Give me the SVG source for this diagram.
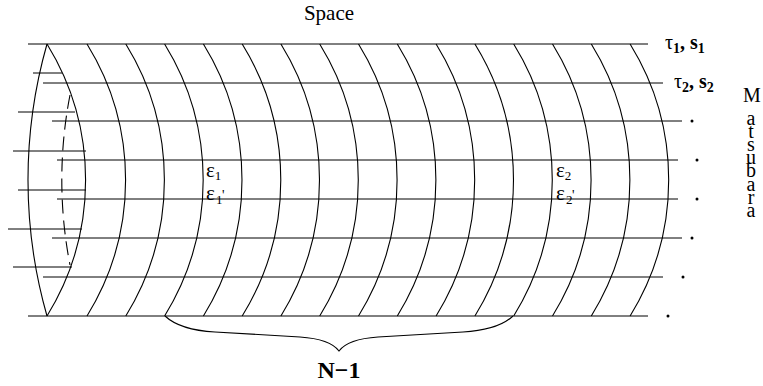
<svg xmlns="http://www.w3.org/2000/svg" width="763" height="386" viewBox="0 0 763 386">
<style>
.ln{stroke:#000;stroke-width:1;fill:none}
.arc{stroke:#000;stroke-width:1.1;fill:none}
text{font-family:'Liberation Serif','Times New Roman',serif;fill:#000}
.b{font-weight:bold}
.vert{writing-mode:vertical-rl;text-orientation:upright;letter-spacing:-8.8px}
</style>
<rect width="763" height="386" fill="#fff"/>
<g id="lines">
<path class="ln" d="M28,44H648 M43,83H663 M52,121H682 M57,160H678 M57,199H678 M52,238H682 M43,277H663 M28,316H648"/>
<path class="ln" d="M33,73H62 M18,112H75 M13,151H86 M18,190H86 M8,229H82 M13,267H72"/>
</g>
<g id="ellipse">
<path class="arc" d="M47,44 A496 496 0 0 0 47,316"/>
<path class="arc" d="M47,44 A259 259 0 0 1 47,316"/>
<path class="arc" d="M70,95 A445 445 0 0 0 70,265" stroke-dasharray="14 7"/>
</g>
<g id="arcs">
<path class="arc" d="M87,44 A259 259 0 0 1 87,316 M125.8,44 A259 259 0 0 1 125.8,316 M164.6,44 A259 259 0 0 1 164.6,316 M203.4,44 A259 259 0 0 1 203.4,316 M242.2,44 A259 259 0 0 1 242.2,316 M280.9,44 A259 259 0 0 1 280.9,316 M319.7,44 A259 259 0 0 1 319.7,316 M358.5,44 A259 259 0 0 1 358.5,316 M397.3,44 A259 259 0 0 1 397.3,316 M436.1,44 A259 259 0 0 1 436.1,316 M474.9,44 A259 259 0 0 1 474.9,316 M513.7,44 A259 259 0 0 1 513.7,316 M552.5,44 A259 259 0 0 1 552.5,316 M591.3,44 A259 259 0 0 1 591.3,316 M630.1,44 A259 259 0 0 1 630.1,316"/>
</g>
<g id="brace">
<path class="arc" d="M165,316 Q180,330 215,332 L300,337 Q330,339 339,351 Q348,339 378,337 L463,332 Q498,330 513,316"/>
</g>
<g id="dots">
<circle cx="692" cy="121" r="1.5"/>
<circle cx="697" cy="160" r="1.5"/>
<circle cx="697" cy="199" r="1.5"/>
<circle cx="692" cy="238" r="1.5"/>
<circle cx="683" cy="277" r="1.5"/>
<circle cx="668" cy="316" r="1.5"/>
</g>
<g id="labels">
<text x="329" y="20" font-size="21" text-anchor="middle">Space</text>
<text class="b" x="339" y="378" font-size="24" text-anchor="middle">N−1</text>
<text x="665" y="49" font-size="20">τ<tspan class="b" font-size="14" dy="4">1</tspan><tspan dy="-4" class="b">, s</tspan><tspan class="b" font-size="14" dy="4">1</tspan></text>
<text x="674" y="88" font-size="20">τ<tspan class="b" font-size="14" dy="4">2</tspan><tspan dy="-4" class="b">, s</tspan><tspan class="b" font-size="14" dy="4">2</tspan></text>
<text x="206" y="177" font-size="21">ε<tspan font-size="13" dy="3">1</tspan></text>
<text x="206" y="199.5" font-size="21">ε<tspan x="216" y="204" font-size="13">1</tspan><tspan x="222" y="199.5" font-size="14">'</tspan></text>
<text x="556" y="177" font-size="21">ε<tspan font-size="13" dy="3">2</tspan></text>
<text x="556" y="199.5" font-size="21">ε<tspan x="566" y="204" font-size="13">2</tspan><tspan x="572" y="199.5" font-size="14">'</tspan></text>
<text x="752" y="102" font-size="20" text-anchor="middle">M</text>
<text class="vert" x="751" y="106.5" font-size="20">atsubara</text>
</g>
</svg>
